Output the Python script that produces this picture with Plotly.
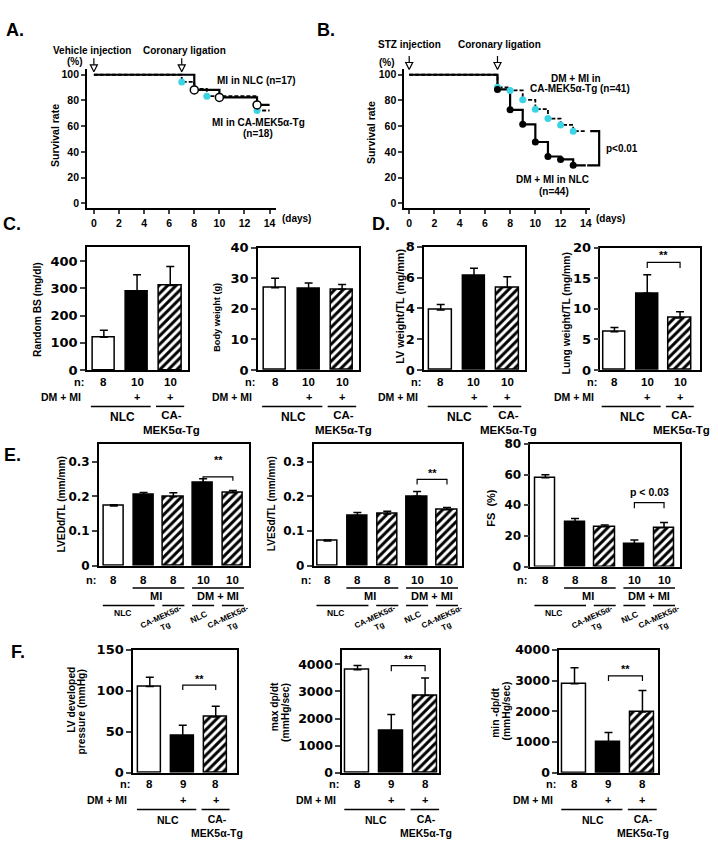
import plotly.graph_objects as go

W, H = 718, 853
FONT = "Liberation Sans, Arial, Helvetica, sans-serif"
WIDE = "DejaVu Sans, Verdana, sans-serif"
CYAN = "#3cd4e4"

# ---------------- data ----------------
# Panel A: survival after coronary ligation (vehicle injection)
a_days_nlc = [0, 8, 10, 13, 14]
a_surv_nlc = [100, 88.2, 82.4, 76.5, 76.5]
a_days_tg = [0, 7, 8, 9, 13, 14]
a_surv_tg = [100, 94.4, 88.9, 83.3, 72.2, 72.2]
# Panel B: survival after coronary ligation (STZ injection)
b_days = [0, 7, 8, 9, 10, 11, 12, 13, 14]
b_surv_nlc = [100, 88.6, 72.7, 61.4, 47.7, 36.4, 34.1, 29.5, 29.5]
b_surv_tg = [100, 90.2, 87.8, 80.5, 73.2, 65.9, 61.0, 56.1, 56.1]
day_ticks = [0, 2, 4, 6, 8, 10, 12, 14]
surv_ticks = [0, 20, 40, 60, 80, 100]
event_days = [0, 7]

# Bar panels
groups3 = ["NLC", "NLC DM+MI", "CA-MEK5α-Tg DM+MI"]
groups5 = ["NLC", "NLC MI", "CA-MEK5α-Tg MI", "NLC DM+MI", "CA-MEK5α-Tg DM+MI"]
fills3 = ["white", "black", "hatch"]
fills5 = ["white", "black", "hatch", "black", "hatch"]

bs_mean = [120, 290, 310]
bs_err = [26, 60, 70]
bw_mean = [26.9, 26.5, 26.4]
bw_err = [3.1, 2.0, 1.6]
n_cd = [8, 10, 10]

lvw_mean = [3.9, 6.1, 5.35]
lvw_err = [0.35, 0.5, 0.7]
lung_mean = [6.25, 12.55, 8.5]
lung_err = [0.7, 3.05, 1.05]

lvedd_mean = [0.172, 0.204, 0.199, 0.240, 0.210]
lvedd_err = [0.004, 0.007, 0.011, 0.011, 0.007]
lvesd_mean = [0.071, 0.145, 0.149, 0.200, 0.161]
lvesd_err = [0.003, 0.008, 0.008, 0.014, 0.007]
fs_mean = [58, 29, 26, 14.5, 25.3]
fs_err = [2, 2.4, 1.2, 2.8, 3.5]
n_e = [8, 8, 8, 10, 10]

lvdp_mean = [105, 45, 68]
lvdp_err = [11.5, 13, 13]
maxdp_mean = [3800, 1550, 2850]
maxdp_err = [160, 600, 650]
mindp_mean = [2900, 1000, 1980]
mindp_err = [520, 310, 700]
n_f = [8, 9, 8]


# ---------------- helpers ----------------
def pxx(x):
    return x / W


def pxy(y):
    return 1 - y / H


def fnt(size, family=FONT):
    return dict(family=family, size=size, color="black", weight="bold")


annotations = []
shapes = []
layout_axes = {}


def ann(text, x, y, size, xref="paper", yref="paper", xanchor="center",
        yanchor="middle", angle=0, align="center", family=FONT):
    if xref == "paper":
        x = pxx(x)
    if yref == "paper":
        y = pxy(y)
    annotations.append(dict(text=text, x=x, y=y, xref=xref, yref=yref,
                            xanchor=xanchor, yanchor=yanchor, textangle=angle,
                            align=align, showarrow=False, font=fnt(size, family)))


def ids(i):
    s = "" if i == 1 else str(i)
    return "xaxis" + s, "yaxis" + s, "x" + s, "y" + s


fig = go.Figure()

# ---------------- survival panels ----------------
surv_panels = [
    dict(i=1, dom=(87, 276, 62, 204), xr=(-0.557, 14.48)),
    dict(i=2, dom=(404.7, 591.3, 62, 204), xr=(-0.40, 14.37)),
]
surv_yr = (-3.8, 104.6)
for p in surv_panels:
    xa, ya, xid, yid = ids(p["i"])
    x0, x1, y0, y1 = p["dom"]
    layout_axes[xa] = dict(domain=[pxx(x0), pxx(x1)], range=list(p["xr"]), anchor=yid,
                           tickvals=day_ticks, ticks="outside", ticklen=4, tickwidth=1.5,
                           showline=True, linewidth=1.5, linecolor="black",
                           showgrid=False, zeroline=False, tickfont=fnt(10.5))
    layout_axes[ya] = dict(domain=[pxy(y1), pxy(y0)], range=list(surv_yr), anchor=xid,
                           tickvals=surv_ticks, ticks="outside", ticklen=4, tickwidth=1.5,
                           showline=True, linewidth=1.5, linecolor="black",
                           showgrid=False, zeroline=False, tickfont=fnt(10.5))


def step(x, y, xid, yid, dash, width):
    fig.add_trace(go.Scatter(x=x, y=y, mode="lines", line=dict(shape="hv", color="black",
                                                              width=width, dash=dash),
                             xaxis=xid, yaxis=yid, showlegend=False, hoverinfo="skip"))


def marks(x, y, xid, yid, color, line_color, symbol="circle", size=7, lw=0):
    fig.add_trace(go.Scatter(x=x, y=y, mode="markers",
                             marker=dict(symbol=symbol, size=size, color=color,
                                         line=dict(color=line_color, width=lw)),
                             xaxis=xid, yaxis=yid, showlegend=False, cliponaxis=False))


# Panel A
step(a_days_tg, a_surv_tg, "x", "y", "4px,2px", 1.8)
step(a_days_nlc, a_surv_nlc, "x", "y", "solid", 2.2)
marks(a_days_tg[1:-1], a_surv_tg[1:-1], "x", "y", CYAN, CYAN)
marks(a_days_nlc[1:-1], a_surv_nlc[1:-1], "x", "y", "white", "black", size=8, lw=1.5)
# Panel B
step(b_days, b_surv_tg, "x2", "y2", "4px,2px", 1.8)
step(b_days, b_surv_nlc, "x2", "y2", "solid", 2.2)
marks(b_days[1:-1], b_surv_tg[1:-1], "x2", "y2", CYAN, CYAN)
marks(b_days[1:-1], b_surv_nlc[1:-1], "x2", "y2", "black", "black")

# event arrows (open heads) above the curves
for xid, yid, tip in (("x", "y", 102.3), ("x2", "y2", 104.1)):
    fig.add_trace(go.Scatter(x=event_days, y=[tip] * len(event_days), mode="markers",
                             marker=dict(symbol="arrow-down-open", size=7, color="black",
                                         line=dict(color="black", width=1.2)),
                             xaxis=xid, yaxis=yid, showlegend=False, cliponaxis=False))
    for d in event_days:
        annotations.append(dict(text="", x=d, y=tip, xref=xid, yref=yid, showarrow=True,
                                arrowhead=0, arrowwidth=1.2, arrowcolor="black",
                                ax=0, ay=-15, standoff=7))

# texts A
ann("A.", 15.5, 22, 18)
ann("Vehicle injection", 92.5, 43, 10)
ann("Coronary ligation", 185, 43, 10)
ann("(%)", 75.5, 54.5, 10)
ann("MI in NLC (n=17)", 257, 74, 10)
ann("MI in CA-MEK5α-Tg", 258.5, 116.7, 10)
ann("(n=18)", 258, 128.3, 10)
ann("(days)", 297, 215, 10)
ann("Survival rate", 55, 129.5, 10.5, angle=-90)
# texts B
ann("B.", 326.5, 22, 18)
ann("STZ injection", 410, 37.7, 10)
ann("Coronary ligation", 500, 37.7, 10)
ann("(%)", 388, 56, 10)
ann("DM + MI in", 577, 71.7, 10)
ann("CA-MEK5α-Tg (n=41)", 580.5, 82.3, 10)
ann("DM + MI in NLC", 553, 175, 10)
ann("(n=44)", 555, 186.7, 10)
ann("p<0.01", 623, 142.7, 10)
ann("(days)", 611.5, 215, 10)
ann("Survival rate", 371, 127, 10.5, angle=-90)
# p<0.01 bracket
shapes.append(dict(type="path", xref="paper", yref="y2",
                   path=f"M {pxx(591)} {b_surv_tg[-1]} L {pxx(600)} {b_surv_tg[-1]} "
                        f"L {pxx(600)} {b_surv_nlc[-1]} L {pxx(588)} {b_surv_nlc[-1]}",
                   line=dict(color="black", width=2.2)))

# ---------------- bar panels ----------------
rows_cd = dict(n=381, dm=396.7, line=406, l1=417, l2=428, lab=12, sub=11.5)
rows_f = dict(n=791, dm=806.7, line=816.7, l1=827.3, l2=839.3, lab=10.5, sub=10.5)
rows_e = dict(n=582.5, top=591, mi=599.5, bot=609, nlc=616.5, rot=625)

bar_panels = [
    dict(i=3, dom=(87, 188.3, 244, 369), xr=(-0.511, 2.535), yr=(0, 450),
         yt=[0, 100, 200, 300, 400], mean=bs_mean, err=bs_err, n=n_cd, fills=fills3,
         bw=0.68, rows=rows_cd, titles=[("Random BS (mg/dl)", 38, 306.7)], ts=10.2,
         tf=13, bracket=None),
    dict(i=4, dom=(258.3, 359, 244.3, 369), xr=(-0.513, 2.49), yr=(0, 40),
         yt=[0, 10, 20, 30, 40], mean=bw_mean, err=bw_err, n=n_cd, fills=fills3,
         bw=0.66, rows=rows_cd, titles=[("Body weight (g)", 217, 315)], ts=9.2,
         tf=13, bracket=None),
    dict(i=5, dom=(424.7, 525.5, 243.3, 369), xr=(-0.498, 2.525), yr=(0, 8),
         yt=[0, 2, 4, 6, 8], mean=lvw_mean, err=lvw_err, n=n_cd, fills=fills3,
         bw=0.68, rows=rows_cd, titles=[("LV weight/TL (mg/mm)", 401, 304)], ts=10.8,
         tf=13, bracket=None),
    dict(i=6, dom=(601.3, 700.5, 244.3, 369), xr=(-0.426, 2.594), yr=(0, 20),
         yt=[0, 5, 10, 15, 20], mean=lung_mean, err=lung_err, n=n_cd, fills=fills3,
         bw=0.68, rows=rows_cd, titles=[("Lung weight/TL (mg/mm)", 567, 311)], ts=10.3,
         tf=13, bracket=(1, 2, 17.6, 16.7, "**", 18.8)),
    dict(i=7, dom=(99, 249, 444, 568.3), xr=(-0.503, 4.53), yr=(0, 0.352),
         yt=[0, 0.1, 0.2, 0.3], mean=lvedd_mean, err=lvedd_err, n=n_e, fills=fills5,
         bw=0.68, rows=rows_e, titles=[("LVEDd/TL (mm/mm)", 62, 506)], ts=10.2,
         tf=12, bracket=(3, 4, 0.256, 0.245, "**", 0.305)),
    dict(i=8, dom=(314, 462.7, 444, 568.3), xr=(-0.468, 4.505), yr=(0, 0.352),
         yt=[0, 0.1, 0.2, 0.3], mean=lvesd_mean, err=lvesd_err, n=n_e, fills=fills5,
         bw=0.68, rows=rows_e, titles=[("LVESd/TL (mm/mm)", 272, 505)], ts=10.1,
         tf=12, bracket=(3, 4, 0.249, 0.234, "**", 0.268)),
    dict(i=9, dom=(531, 680.7, 444.3, 569.3), xr=(-0.51, 4.53), yr=(0, 80),
         yt=[0, 20, 40, 60, 80], mean=fs_mean, err=fs_err, n=n_e, fills=fills5,
         bw=0.68, rows=rows_e, titles=[("FS  (%)", 492, 509)], ts=11,
         tf=12, bracket=(3, 4, 41.8, 38, "p < 0.03", 48.6)),
    dict(i=10, dom=(133.3, 237.5, 654, 779.3), xr=(-0.506, 2.65), yr=(0, 150),
         yt=[0, 50, 100, 150], mean=lvdp_mean, err=lvdp_err, n=n_f, fills=fills3,
         bw=0.71, rows=rows_f,
         titles=[("LV developed", 71.5, 704.6), ("pressure (mmHg)", 82, 717)], ts=10.3,
         tf=13, bracket=(1, 2, 106.9, 100.9, "**", 114)),
    dict(i=11, dom=(342.7, 440, 654, 779.3), xr=(-0.452, 2.423), yr=(0, 4540),
         yt=[0, 1000, 2000, 3000, 4000], mean=maxdp_mean, err=maxdp_err, n=n_f,
         fills=fills3, bw=0.71, rows=rows_f,
         titles=[("max dp/dt", 274.5, 712.5), ("(mmHg/sec)", 285.3, 717.5)], ts=10.3,
         tf=12.5, bracket=(1, 2, 3952, 3745, "**", 4180)),
    dict(i=12, dom=(560, 659, 654.3, 779.3), xr=(-0.45, 2.46), yr=(0, 4000),
         yt=[0, 1000, 2000, 3000, 4000], mean=mindp_mean, err=mindp_err, n=n_f,
         fills=fills3, bw=0.70, rows=rows_f,
         titles=[("min -dp/dt", 496.7, 718.3), ("(mmHg/sec)", 507, 716.7)], ts=10.3,
         tf=12.5, bracket=(1, 2, 3155, 2986, "**", 3370)),
]

FILL_STYLE = {
    "white": dict(color="white", pattern=dict(shape="")),
    "black": dict(color="black", pattern=dict(shape="")),
    "hatch": dict(color="white", pattern=dict(shape="/", fgcolor="black", bgcolor="white",
                                              fgopacity=1, fillmode="replace",
                                              size=6, solidity=0.5)),
}

for p in bar_panels:
    xa, ya, xid, yid = ids(p["i"])
    x0, x1, y0, y1 = p["dom"]
    xs = list(range(len(p["mean"])))
    layout_axes[xa] = dict(domain=[pxx(x0), pxx(x1)], range=list(p["xr"]), anchor=yid,
                           showline=True, mirror=True, linewidth=1.5, linecolor="black",
                           showticklabels=False, ticks="", showgrid=False, zeroline=False)
    layout_axes[ya] = dict(domain=[pxy(y1), pxy(y0)], range=list(p["yr"]), anchor=xid,
                           showline=True, mirror=True, linewidth=1.5, linecolor="black",
                           tickvals=p["yt"], ticks="outside", ticklen=5, tickwidth=1.5,
                           showgrid=False, zeroline=False, tickfont=fnt(p["tf"], WIDE))
    for kind, style in FILL_STYLE.items():
        idx = [k for k in xs if p["fills"][k] == kind]
        if not idx:
            continue
        fig.add_trace(go.Bar(
            x=idx, y=[p["mean"][k] for k in idx], width=p["bw"],
            marker=dict(color=style["color"], line=dict(color="black", width=1.5),
                        pattern=style["pattern"]),
            error_y=dict(type="data", symmetric=False, array=[p["err"][k] for k in idx],
                         arrayminus=[0] * len(idx), color="black", thickness=1.5, width=4),
            xaxis=xid, yaxis=yid, showlegend=False))

    for t, tx, ty in p["titles"]:
        ann(t, tx, ty, p["ts"], angle=-90)

    if p["bracket"]:
        i0, i1, yt_, yk, lab, ly = p["bracket"]
        shapes.append(dict(type="path", xref=xid, yref=yid,
                           path=f"M {i0} {yk} L {i0} {yt_} L {i1} {yt_} L {i1} {yk}",
                           line=dict(color="black", width=1.2)))
        ann(lab, (i0 + i1) / 2, ly, 11 if lab == "**" else 10.5, xref=xid, yref=yid)

    r = p["rows"]
    ann("n:", x0 - 1, r["n"], 11, xanchor="right")
    for k, nv in enumerate(p["n"]):
        ann(str(nv), k, r["n"], 11.5, xref=xid)

    def hline(a, b, yy):
        shapes.append(dict(type="line", xref=xid, yref="paper", x0=a, x1=b,
                           y0=pxy(yy), y1=pxy(yy), line=dict(color="black", width=1.5)))

    if len(xs) == 3:
        ann("DM + MI", x0 - 4, r["dm"], 10.5, xanchor="right")
        for k in (1, 2):
            ann("+", k, r["dm"], 11, xref=xid)
        hline(-0.39, 1.41, r["line"])
        hline(1.57, 2.42, r["line"])
        ann("NLC", 0.55, r["l1"], r["lab"], xref=xid)
        ann("CA-<br>MEK5α-Tg", 2.03, (r["l1"] + r["l2"]) / 2, r["sub"], xref=xid)
    else:
        hline(0.63, 2.37, r["top"])
        hline(2.63, 4.37, r["top"])
        ann("MI", 1.42, r["mi"], 11, xref=xid)
        ann("DM + MI", 3.5, r["mi"], 11, xref=xid)
        hline(-0.37, 1.37, r["bot"])
        hline(1.63, 2.37, r["bot"])
        hline(2.63, 3.37, r["bot"])
        hline(3.63, 4.37, r["bot"])
        ann("NLC", 0.28, r["nlc"], 8.5, xref=xid)
        ann("CA-MEK5α-<br>Tg", 1.65, r["rot"], 8, xref=xid, angle=-25)
        ann("NLC", 2.85, r["rot"] - 4, 8.5, xref=xid, angle=-25)
        ann("CA-MEK5α-<br>Tg", 3.9, r["rot"], 8, xref=xid, angle=-25)

# panel letters C-F
ann("C.", 12.5, 220, 18)
ann("D.", 382, 220, 18)
ann("E.", 12.5, 456, 18)
ann("F.", 18.5, 656, 18)

fig.update_layout(width=W, height=H, margin=dict(l=0, r=0, t=0, b=0),
                  paper_bgcolor="white", plot_bgcolor="white", showlegend=False,
                  font=fnt(11), annotations=annotations, shapes=shapes,
                  bargap=0, barmode="overlay", **layout_axes)

fig.write_html("out.html", config={"displayModeBar": False},
               post_script="document.body.style.margin='0';document.body.style.overflow='hidden';")
